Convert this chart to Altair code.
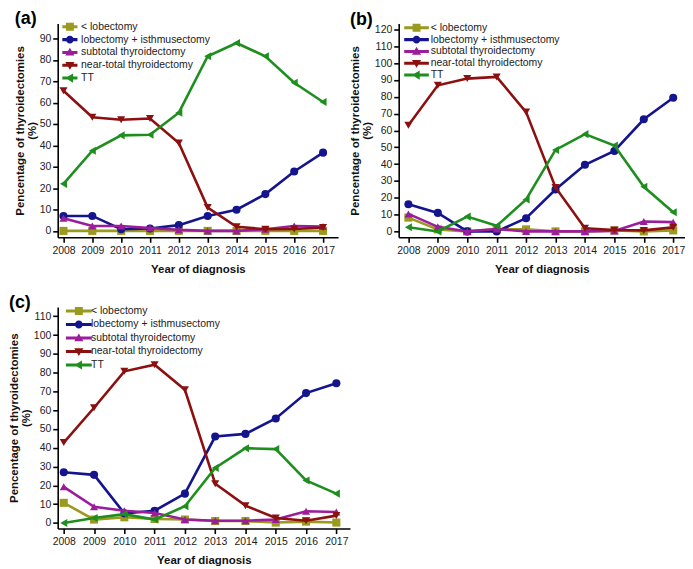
import altair as alt
import pandas as pd

years = list(range(2008, 2018))
series = ["< lobectomy", "lobectomy + isthmusectomy", "subtotal thyroidectomy",
          "near-total thyroidectomy", "TT"]
colors = ["#9a9a1e", "#14148f", "#9b1d9b", "#8c1010", "#1e8f1e"]
shapes = ["square", "circle", "triangle-up", "triangle-down", "triangle-left"]

# Panel (a)
a_lob = [0, 0, 0, 0, 0, 0, 0, 0, 0, 0]
a_isth = [7.0, 7.0, 0.8, 1.1, 2.7, 7.0, 9.9, 17.2, 27.8, 36.6]
a_sub = [5.9, 2.3, 2.3, 1.3, 0.5, 0, 0, 0.8, 2.3, 2.0]
a_near = [65.6, 53.2, 52.0, 52.6, 41.1, 10.9, 1.9, 0.8, 0.9, 1.6]
a_tt = [22.0, 37.5, 44.7, 45.0, 55.3, 81.7, 87.9, 81.7, 69.3, 60.3]

# Panel (b)
b_lob = [8.2, 1.2, 0, 1.2, 1.2, 0, 0, 0.5, 0, 0.6]
b_isth = [16.1, 11.0, 0, 0, 7.8, 24.9, 39.6, 47.8, 66.6, 79.4]
b_sub = [10.4, 2.7, 0, 1.4, 0, 0, 0, 0.3, 5.9, 5.5]
b_near = [63.1, 86.8, 90.8, 91.8, 70.9, 26.1, 1.9, 0.8, 0.6, 2.4]
b_tt = [2.5, 0, 8.8, 3.3, 19.0, 48.4, 57.8, 51.0, 26.5, 11.4]

# Panel (c)
c_lob = [10.7, 1.8, 3.0, 2.1, 1.8, 1.0, 1.0, 0.2, 0.7, 0.2]
c_isth = [27.0, 25.6, 5.1, 6.5, 15.6, 46.0, 47.4, 55.6, 69.1, 74.4]
c_sub = [19.2, 8.6, 6.5, 5.3, 1.8, 1.2, 1.2, 1.8, 6.2, 5.8]
c_near = [42.8, 61.3, 80.7, 84.2, 70.9, 20.9, 9.2, 2.6, 1.2, 3.9]
c_tt = [0, 2.6, 4.7, 1.8, 8.9, 29.3, 39.8, 39.3, 22.6, 15.6]

FONT = "Liberation Sans"


def legend_paths(half):
    bar = f"M{-half},-0.38H{half}V0.38H{-half}Z"
    marks = [
        "M-1,-1H1V1H-1Z",
        "M-1,0A1,1 0 1,1 1,0A1,1 0 1,1 -1,0Z",
        "M0,-1.15L1.15,0.8L-1.15,0.8Z",
        "M0,1.15L-1.15,-0.8L1.15,-0.8Z",
        "M-1.15,0L0.8,-1.15L0.8,1.15Z",
    ]
    return [bar + m for m in marks]


def panel(tag, vals, xdom, ydom, yticks, w, h, legx, legy, rowpad, half, lo):
    rows = []
    for s, v in zip(series, vals):
        for yr, val in zip(years, v):
            rows.append({"year": yr, "series": s, "value": val})
    df = pd.DataFrame(rows)
    base = alt.Chart(df)

    x = alt.X("year:Q", scale=alt.Scale(domain=xdom, nice=False, zero=False),
              axis=alt.Axis(values=years, format="d", title="Year of diagnosis",
                            grid=False, domainColor="black", domainWidth=1.6,
                            tickColor="black", tickWidth=1.6, tickSize=5,
                            labelFontSize=10.5, labelColor="#222", labelPadding=3,
                            labelFont=FONT, titleFont=FONT, titleFontSize=11.5,
                            titleFontWeight="bold", titleColor="#111",
                            titlePadding=8, labelFlush=False))
    y = alt.Y("value:Q", scale=alt.Scale(domain=ydom, nice=False, zero=False),
              axis=alt.Axis(values=yticks, title=["Pencentage of thyroidectomies", "(%)"],
                            grid=False, domainColor="black", domainWidth=1.6,
                            tickColor="black", tickWidth=1.6, tickSize=5,
                            labelFontSize=10.5, labelColor="#222", labelPadding=2,
                            labelFont=FONT, titleFont=FONT, titleFontSize=11.5,
                            titleFontWeight="bold", titleColor="#111",
                            titlePadding=2, titleLineHeight=11.5))

    col = alt.Color("series:N", scale=alt.Scale(domain=series, range=colors), legend=None)
    shp = alt.Shape("series:N", scale=alt.Scale(domain=series, range=shapes), legend=None)

    layers = []
    for s in series:
        sub = base.transform_filter(alt.datum.series == s)
        layers.append(sub.mark_line(strokeWidth=2.6).encode(x=x, y=y, color=col, order="year:Q"))
        layers.append(sub.mark_point(filled=True, size=66, opacity=1).encode(x=x, y=y, color=col, shape=shp))

    leg = alt.Legend(title=None, orient="none", legendX=legx, legendY=legy,
                     labelFontSize=10.5, labelColor="#222", labelFont=FONT,
                     symbolSize=64, symbolStrokeWidth=0, symbolOpacity=1,
                     rowPadding=rowpad, labelOffset=lo, padding=0)
    dummy = base.mark_point(filled=True, opacity=0).encode(
        x=x, y=y,
        color=alt.Color("series:N", scale=alt.Scale(domain=series, range=colors), legend=leg),
        shape=alt.Shape("series:N", scale=alt.Scale(domain=series, range=legend_paths(half)), legend=leg),
    )
    layers.append(dummy)

    return alt.layer(*layers).resolve_scale(color="independent", shape="independent").properties(
        width=w, height=h,
        title=alt.TitleParams(tag, anchor="start", fontSize=18, fontWeight="bold",
                              font=FONT, color="black", offset=-6, frame="bounds"),
    )


pa = panel("(a)", [a_lob, a_isth, a_sub, a_near, a_tt], [2007.8, 2017.52], [-3, 97],
           list(range(0, 91, 10)), 282, 215, 7, -2, 1.9, 1.9, 6)
pb = panel("(b)", [b_lob, b_isth, b_sub, b_near, b_tt], [2007.67, 2017.4], [-3.5, 123.5],
           list(range(0, 121, 10)), 288, 215, 12.7, -1, 0.9, 3.1, 9)
pc = panel("(c)", [c_lob, c_isth, c_sub, c_near, c_tt], [2007.8, 2017.45], [-3, 115],
           list(range(0, 111, 10)), 294, 223, 16, -1.2, 2.6, 3.25, 7)

top = alt.hconcat(pa, pb, spacing=11).resolve_scale(color="independent", shape="independent")
chart = alt.vconcat(top, pc, spacing=18).resolve_scale(color="independent", shape="independent")
chart = chart.properties(padding={"left": 0, "top": 0, "right": 0, "bottom": 0}).configure_view(stroke=None)

chart.save("out.html", embed_options={"renderer": "svg", "actions": False})
